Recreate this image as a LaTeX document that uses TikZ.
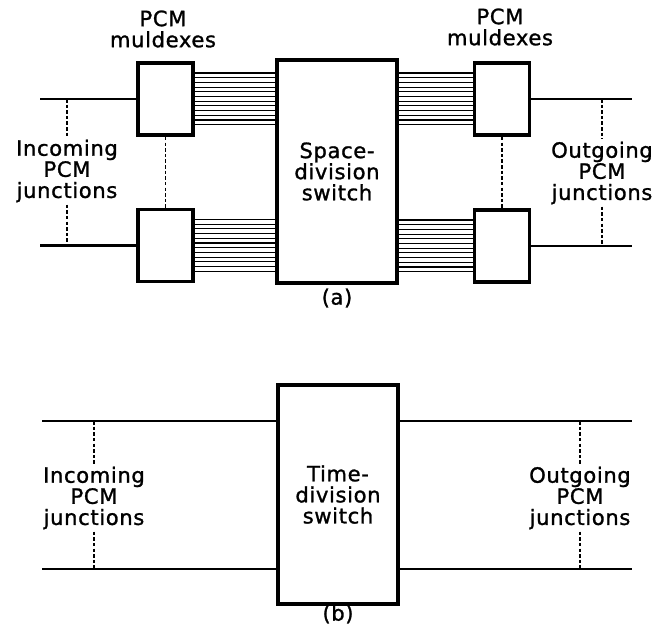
\documentclass[tikz,border=0pt]{standalone}
\usepackage{fontspec}
\setmainfont{DejaVu Sans}[LetterSpace=3, FakeBold=1.2]
\usetikzlibrary{calc, positioning}

\begin{document}
\begin{tikzpicture}[x=0.25mm, y=-0.25mm,
  switchbox/.style={rectangle, draw, line width=2.8pt, minimum width=30mm,
    minimum height=55.75mm, align=center, font=\fontsize{15}{15}\selectfont},
  muxbox/.style={rectangle, draw, line width=2.8pt, minimum width=13.75mm,
    minimum height=18mm},
  lbl/.style={align=center, font=\fontsize{15}{15}\selectfont, inner sep=1.5pt},
  junc/.style={line width=1.8pt},
  bundle/.style={line width=0.8pt},
  dashline/.style={line width=1pt, dash pattern=on 2.5pt off 1.5pt}
]
\useasboundingbox (0,0) rectangle (656,636);
% === (a): muldexes and space-division switch ===
\node[switchbox] (sds) at (337,171.5) {Space-\\division\\switch};
\node[muxbox] (muxIn1) at (165.5,99) {};
\node[muxbox] (muxIn2) at (165.5,245.5) {};
\node[muxbox] (muxOut1) at (502,99) {};
\node[muxbox] (muxOut2) at (502,246) {};
\node[lbl] (mdxIn) at (163,29) {PCM\\muldexes};
\node[lbl] (mdxOut) at (500,27) {PCM\\muldexes};
\coordinate (inA1) at (40,99);
\coordinate (inA2) at (40,245.5);
\coordinate (outA1) at (632,99);
\coordinate (outA2) at (632,246);
\node[lbl] (incA) at (67,171) {Incoming\\PCM\\junctions};
\node[lbl] (outA) at (602,173) {Outgoing\\PCM\\junctions};
% === (a): junctions ===
\draw[junc] (inA1) -- (muxIn1.west);
\draw[junc] (inA2) -- (muxIn2.west);
\draw[junc] (muxOut1.east) -- (outA1);
\draw[junc] (muxOut2.east) -- (outA2);
\draw[dashline] (incA.north |- inA1) -- (incA.north);
\draw[dashline] (incA.south) -- (incA.south |- inA2);
\draw[dashline] (outA.north |- outA1) -- (outA.north);
\draw[dashline] (outA.south) -- (outA.south |- outA2);
\draw[dashline] (muxIn1.south) -- (muxIn2.north);
\draw[dashline] (muxOut1.south) -- (muxOut2.north);
% === (a): channel bundles ===
\foreach \dy in {-26,-21.3,...,26} {
  \foreach \m in {muxIn1,muxIn2}
    \draw[bundle] ($(\m.east)+(0,\dy)$) -- ($(\m.east -| sds.west)+(0,\dy)$);
  \foreach \m in {muxOut1,muxOut2}
    \draw[bundle] ($(\m.west -| sds.east)+(0,\dy)$) -- ($(\m.west)+(0,\dy)$);
}
\node[lbl] (capA) at (337,298) {(a)};
% === (b): time-division switch ===
\node[switchbox, minimum height=54.75mm] (tds) at (338,494.5) {Time-\\division\\switch};
\coordinate (inB1) at (42,421);
\coordinate (inB2) at (42,569);
\coordinate (outB1) at (632,421);
\coordinate (outB2) at (632,569);
\node[lbl] (incB) at (94,498) {Incoming\\PCM\\junctions};
\node[lbl] (outB) at (580,498) {Outgoing\\PCM\\junctions};
\draw[junc] (inB1) -- (inB1 -| tds.west);
\draw[junc] (inB2) -- (inB2 -| tds.west);
\draw[junc] (tds.east |- outB1) -- (outB1);
\draw[junc] (tds.east |- outB2) -- (outB2);
\draw[dashline] (incB.north |- inB1) -- (incB.north);
\draw[dashline] (incB.south) -- (incB.south |- inB2);
\draw[dashline] (outB.north |- outB1) -- (outB.north);
\draw[dashline] (outB.south) -- (outB.south |- outB2);
\node[lbl] (capB) at (338,614) {(b)};
\end{tikzpicture}
\end{document}
